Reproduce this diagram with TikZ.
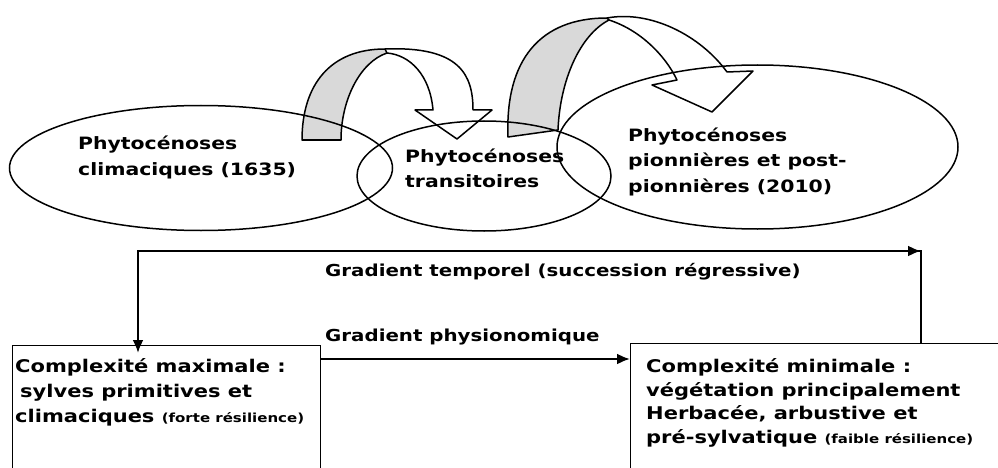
\documentclass[tikz,border=0pt]{standalone}
\usepackage{fontspec}
\setmainfont{DejaVu Sans}[FakeStretch=1.2]
\usetikzlibrary{arrows.meta,shapes.geometric}

\begin{document}
\begin{tikzpicture}[x=1pt,y=-1pt,
    ell/.style={ellipse, draw, line width=1.5pt, inner sep=0pt},
    lbl/.style={anchor=north west, inner sep=0pt, align=left, font=\bfseries\fontsize{17}{26}\selectfont},
    box/.style={draw, line width=1.3pt, anchor=north west, inner sep=0pt},
    arr/.style={line width=2.2pt, -{Latex[length=13pt,width=11pt]}},
    ribbon/.style={line width=1.5pt, line join=round}]
    \clip (0,0) rectangle (998,468);

    % Fleches courbes (dos grise)
    \filldraw[ribbon, fill=black!15] (302,140) .. controls (302,85) and (330,49) .. (385,49) -- (387,53) .. controls (360,62) and (341,100) .. (341,140) -- cycle;
    \filldraw[ribbon, fill=black!15] (508,137) .. controls (505,60) and (540,18) .. (607,18) -- (609,20) .. controls (580,35) and (560,80) .. (558,130) -- cycle;

    % Ellipses
    \node[ell, minimum width=383, minimum height=125] (climax) at (201,168) {};
    \node[ell, minimum width=254, minimum height=110] (transit) at (484,176) {};
    \node[ell, minimum width=401, minimum height=164] (pioneer) at (757.5,147) {};

    % Fleches courbes (face)
    \draw[ribbon] (385,49) .. controls (460,46) and (473,75) .. (473,110) -- (492,110) -- (457,139) -- (415,110) -- (433,110) .. controls (430,75) and (410,55) .. (387,53);
    \draw[ribbon] (607,18) .. controls (650,10) and (700,35) .. (727,72) -- (753,71) -- (712,112) -- (652,85) -- (677,80) .. controls (665,55) and (640,30) .. (609,20);

    % Textes des ellipses
    \node[lbl] (climaxtxt) at (78,135.5) {Phytocénoses\\climaciques (1635)};
    \node[lbl, font=\bfseries\fontsize{17}{25}\selectfont] (transittxt) at (405,148.5) {Phytocénoses\\transitoires};
    \node[lbl, font=\bfseries\fontsize{17}{25.5}\selectfont] (pioneertxt) at (628,127.5) {Phytocénoses\\pionnières et post-\\pionnières (2010)};

    % Cadres
    \node[box, minimum width=308, minimum height=150] (maxbox) at (12,345) {};
    \node[box, minimum width=400, minimum height=150] (minbox) at (630,343) {};
    \node[lbl, font=\bfseries\fontsize{17.5}{25}\selectfont] (maxtxt) at (15,358.5) {Complexité maximale :\\\hspace*{5pt}sylves primitives et\\climaciques {\fontsize{12.5}{25}\selectfont (forte résilience)}};
    \node[lbl, font=\bfseries\fontsize{17.5}{23.5}\selectfont] (mintxt) at (646,358.5) {Complexité minimale :\\végétation principalement\\Herbacée, arbustive et\\pré-sylvatique {\fontsize{12.5}{23.5}\selectfont (faible résilience)}};

    % Gradients
    \node[lbl, font=\bfseries\fontsize{16.5}{20}\selectfont] (temporel) at (325,263.5) {Gradient temporel (succession régressive)};
    \node[lbl, font=\bfseries\fontsize{16.5}{20}\selectfont] (physio) at (325,328.5) {Gradient physionomique};

    \coordinate (cL) at (138,251);
    \coordinate (cR) at (921,251);
    \coordinate (tipL) at (138,353);
    \draw[arr] (minbox.north -| cR) -- (cR) -- (cL) -- (tipL);
    \draw[arr] (cL) -- (cR);
    \draw[arr] ([yshift=-14pt]maxbox.north east) -- ([yshift=-16pt]minbox.north west);
\end{tikzpicture}
\end{document}
